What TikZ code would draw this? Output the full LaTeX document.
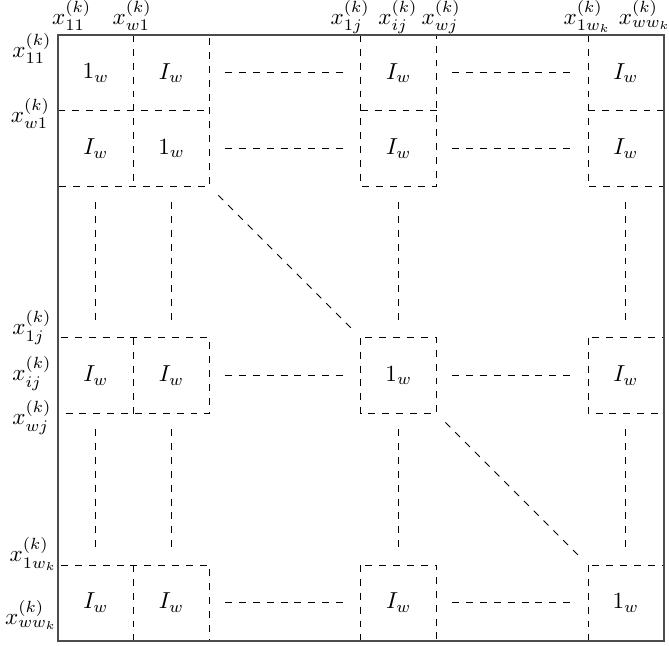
\documentclass[tikz,border=0pt]{standalone}
\usepackage{amsmath}
\usetikzlibrary{positioning}
\tikzset{
  blk/.style={dashed},
  gapdash/.style={dashed,shorten >=0.23cm,shorten <=0.23cm},
  diagdash/.style={dashed,shorten >=0.18cm,shorten <=0.18cm},
  entry/.style={minimum width=1.15cm,minimum height=1.15cm,inner sep=0pt},
  toplbl/.style={inner sep=0pt,anchor=base},
  leftlbl/.style={inner sep=0pt,anchor=base east}
}

\begin{document}
\begin{tikzpicture}[x=1.15cm,y=-1.15cm]
		\useasboundingbox (-0.766,-0.462) rectangle (8.07,8.06);
		
		% dashed blocks
		\foreach \ra/\rb in {0/2,4/5,7/8}
			\foreach \ca/\cb in {0/2,4/5,7/8}
				\draw[blk] (\ca,\ra) rectangle (\cb,\rb);
		\foreach \ca/\cb in {0/2,4/5,7/8}
			\draw[blk] (\ca,1) -- (\cb,1);
		\foreach \ra/\rb in {0/2,4/5,7/8}
			\draw[blk] (1,\ra) -- (1,\rb);
		
		% entries
		\foreach \r/\y in {1/0.5,2/1.5,3/4.5,4/7.5}
			\foreach \c/\x in {1/0.5,2/1.5,3/4.5,4/7.5}
				\node[entry] (e\r\c) at (\x,\y) {\ifnum\r=\c $1_w$\else $I_w$\fi};
		
		\foreach \r in {1,...,4} {
			\draw[gapdash] (e\r2.east) -- (e\r3.west);
			\draw[gapdash] (e\r3.east) -- (e\r4.west);
		}
		\foreach \c in {1,...,4} {
			\draw[gapdash] (e2\c.south) -- (e3\c.north);
			\draw[gapdash] (e3\c.south) -- (e4\c.north);
		}
		\draw[diagdash] (e22.south east) -- (e33.north west);
		\draw[diagdash] (e33.south east) -- (e44.north west);
		
		% frame
		\draw[line width=0.8pt,black!70] (0,0) rectangle (8,8);
		
		% column labels
		\node[toplbl] (c11) at (0.18,-0.14) {$x^{(k)}_{11}$};
		\node[toplbl] (cw1) at (0.98,-0.14) {$x^{(k)}_{w1}$};
		\node[toplbl] (c1j) at (3.86,-0.14) {$x^{(k)}_{1j}$};
		\node[toplbl] (cij) at (4.49,-0.14) {$x^{(k)}_{ij}$};
		\node[toplbl] (cwj) at (5.06,-0.14) {$x^{(k)}_{wj}$};
		\node[toplbl] (c1wk) at (6.99,-0.14) {$x^{(k)}_{1w_k}$};
		\node[toplbl] (cwwk) at (7.75,-0.14) {$x^{(k)}_{ww_k}$};
		
		% row labels
		\node[leftlbl] (r11) at (-0.08,0.3) {$x^{(k)}_{11}$};
		\node[leftlbl] (rw1) at (-0.1,1.15) {$x^{(k)}_{w1}$};
		\node[leftlbl] (r1j) at (-0.08,3.96) {$x^{(k)}_{1j}$};
		\node[leftlbl] (rij) at (-0.08,4.57) {$x^{(k)}_{ij}$};
		\node[leftlbl] (rwj) at (-0.08,5.15) {$x^{(k)}_{wj}$};
		\node[leftlbl] (r1wk) at (-0.01,6.96) {$x^{(k)}_{1w_k}$};
		\node[leftlbl] (rwwk) at (-0.01,7.79) {$x^{(k)}_{ww_k}$};
\end{tikzpicture}
\end{document}
